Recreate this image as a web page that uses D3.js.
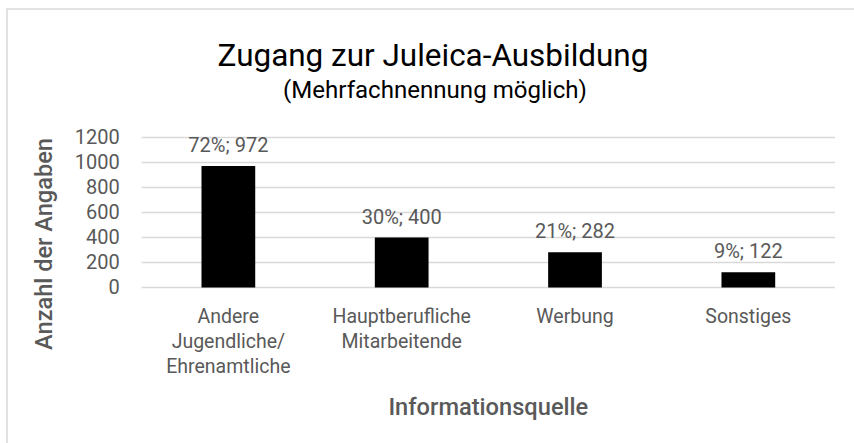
<!DOCTYPE html>
<html>
<head>
<meta charset="utf-8">
<script src="https://cdn.jsdelivr.net/npm/d3@7"></script>
<style>
	body { margin: 0; background: #fff; }
	text { font-family: Roboto, "Open Sans", sans-serif; }
</style>
</head>
<body>
<svg id="chart" width="854" height="443"></svg>
<script>
'use strict'

// chart data
const categories = [
	['Andere', 'Jugendliche/', 'Ehrenamtliche'],
	['Hauptberufliche', 'Mitarbeitende'],
	['Werbung'],
	['Sonstiges']
]
const counts = [972, 400, 282, 122]
const percents = ['72%', '30%', '21%', '9%']
const yTicks = [0, 200, 400, 600, 800, 1000, 1200]

const titleText = 'Zugang zur Juleica-Ausbildung'
const subtitleText = '(Mehrfachnennung möglich)'
const xTitle = 'Informationsquelle'
const yTitle = 'Anzahl der Angaben'

const grey = '#595959'
const svg = d3.select('#chart')

// frame of the chart area (only top and left edges show in the window)
svg.append('rect')
	.attr('x', 7).attr('y', 9)
	.attr('width', 900).attr('height', 500)
	.attr('fill', 'none')
	.attr('stroke', '#d9d9d9')
	.attr('stroke-width', 1.5)

const plot = {left: 141.7, right: 835, top: 137.5, bottom: 287.5}

let x = d3.scaleBand()
	.domain(d3.range(counts.length))
	.range([plot.left, plot.right])
	.paddingInner(0.69)
	.paddingOuter(0.345)

let y = d3.scaleLinear()
	.domain([0, 1200])
	.range([plot.bottom, plot.top])

// gridlines
svg.append('g')
	.selectAll('line')
	.data(yTicks)
	.join('line')
	.attr('x1', plot.left).attr('x2', plot.right)
	.attr('y1', d => y(d)).attr('y2', d => y(d))
	.attr('stroke', '#d9d9d9')
	.attr('stroke-width', 1.3)

// y axis labels
let yAxis = svg.append('g')
	.attr('transform', `translate(${plot.left}, 0)`)
	.call(d3.axisLeft(y).tickValues(yTicks).tickFormat(d3.format('d')).tickSize(0).tickPadding(22))
yAxis.select('.domain').remove()
yAxis.selectAll('text')
	.style('font-family', 'Roboto, sans-serif')
	.style('font-size', '20px')
	.attr('fill', grey)

// bars
svg.append('g')
	.selectAll('rect')
	.data(counts)
	.join('rect')
	.attr('x', (d, i) => x(i))
	.attr('y', d => y(d))
	.attr('width', x.bandwidth())
	.attr('height', d => y(0) - y(d))
	.attr('fill', '#000')

// data labels
svg.append('g')
	.selectAll('text')
	.data(counts)
	.join('text')
	.attr('x', (d, i) => x(i) + x.bandwidth() / 2)
	.attr('y', d => y(d) - 14)
	.attr('text-anchor', 'middle')
	.attr('fill', grey)
	.style('font-size', '20px')
	.text((d, i) => percents[i] + '; ' + d)

// category labels
let catG = svg.append('g')
	.selectAll('text')
	.data(categories)
	.join('text')
	.attr('text-anchor', 'middle')
	.attr('fill', grey)
	.style('font-size', '19.5px')
	.attr('x', (d, i) => x(i) + x.bandwidth() / 2)
	.attr('y', 323)
catG.selectAll('tspan')
	.data(d => d)
	.join('tspan')
	.attr('x', function(){ return d3.select(this.parentNode).attr('x') })
	.attr('dy', (d, i) => i === 0 ? 0 : 25)
	.text(d => d)

// fit a text to a target width by changing its font size
function fitWidth(sel, target){
	let w = sel.node().getComputedTextLength()
	let fs = parseFloat(sel.style('font-size'))
	sel.style('font-size', (fs * target / w) + 'px')
}

let t = svg.append('text')
	.attr('x', 433).attr('y', 66)
	.attr('text-anchor', 'middle')
	.attr('fill', '#000')
	.style('font-size', '27px')
	.text(titleText)
fitWidth(t, 431)

let st = svg.append('text')
	.attr('x', 435).attr('y', 98)
	.attr('text-anchor', 'middle')
	.attr('fill', '#000')
	.style('font-size', '20px')
	.text(subtitleText)
fitWidth(st, 304)

let xt = svg.append('text')
	.attr('x', (plot.left + plot.right) / 2).attr('y', 415)
	.attr('text-anchor', 'middle')
	.attr('fill', grey)
	.style('font-size', '20px')
	.style('font-weight', 500)
	.text(xTitle)
fitWidth(xt, 200)

let yt = svg.append('text')
	.attr('transform', 'translate(52, 244) rotate(-90)')
	.attr('text-anchor', 'middle')
	.attr('fill', grey)
	.style('font-size', '20px')
	.style('font-weight', 500)
	.text(yTitle)
fitWidth(yt, 212)
</script>
</body>
</html>
